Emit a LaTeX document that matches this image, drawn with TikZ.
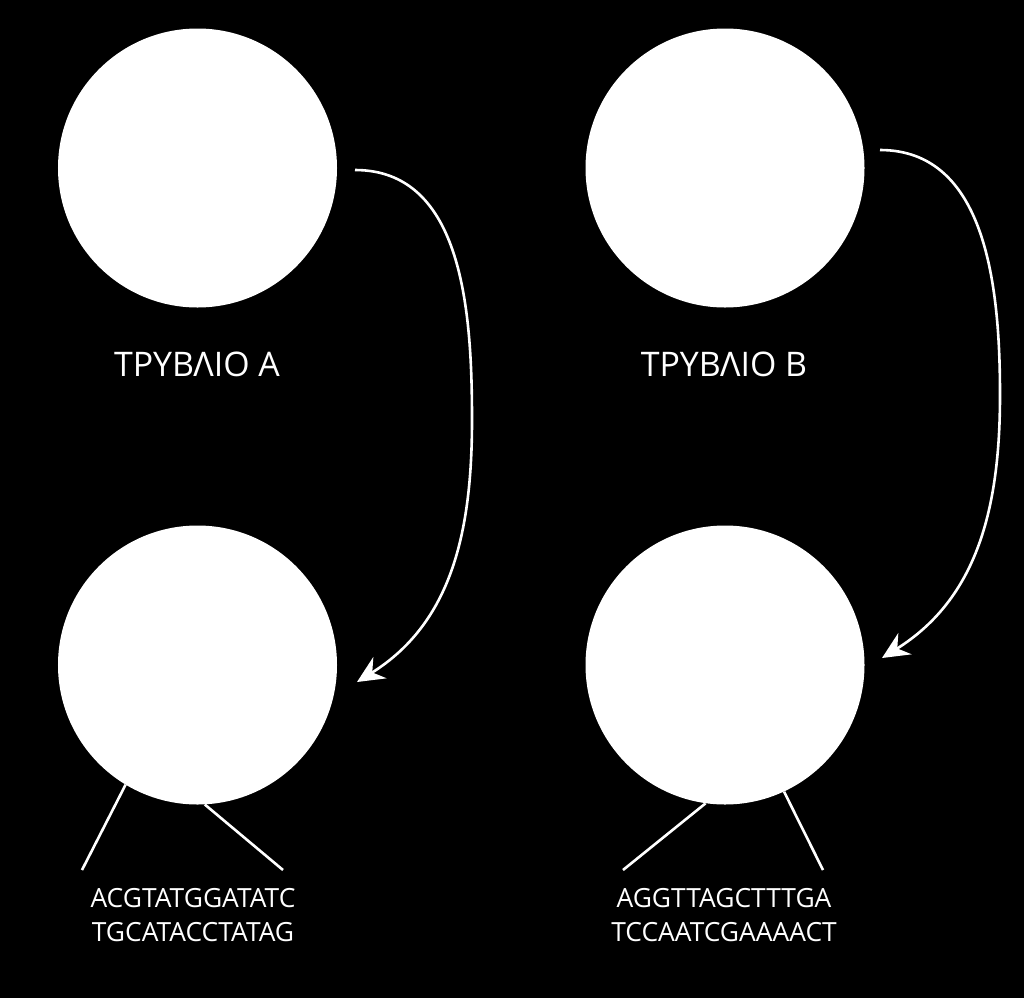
\documentclass[tikz,border=0pt]{standalone}
\usepackage{fontspec}
\setmainfont{Open Sans}
\usetikzlibrary{arrows.meta}
\begin{document}
\begin{tikzpicture}[x=1bp,y=-1bp,
  dish/.style={circle,fill=white,draw=none,minimum size=279bp,inner sep=0pt},
  lbl/.style={text=white,font=\fontsize{34}{40}\selectfont,inner sep=0pt},
  seq/.style={text=white,font=\fontsize{26.5}{33.5}\selectfont,align=center,inner sep=0pt},
  flow/.style={draw=white,line width=2.6bp,-{Stealth[length=27bp,width=25bp,inset=9bp]}},
  stalk/.style={draw=white,line width=2.6bp}]
\fill[black] (0,0) rectangle (1024,998);
\useasboundingbox (0,0) rectangle (1024,998);
\node[dish] (a1) at (197.5,168) {};
\node[dish] (b1) at (725,168) {};
\node[dish] (a2) at (197.5,665) {};
\node[dish] (b2) at (725,665) {};
\node[lbl] (ta) at (197,364) {ΤΡΥΒΛΙΟ Α};
\node[lbl] (tb) at (724,364) {ΤΡΥΒΛΙΟ Β};
\coordinate (sa) at (355,170);
\coordinate (ea) at (357,682);
\coordinate (sb) at (880,150);
\coordinate (eb) at (882,658);
\draw[flow] (sa) to[out=0,in=90] (472,420) to[out=-90,in=32] (ea);
\draw[flow] (sb) to[out=0,in=90] (1000,395) to[out=-90,in=32] (eb);
\node[seq] (qa) at (193,915) {ACGTATGGATATC\\TGCATACCTATAG};
\node[seq] (qb) at (724,915) {AGGTTAGCTTTGA\\TCCAATCGAAAACT};
\coordinate (la1) at (82,870);
\coordinate (la2) at (283,870);
\coordinate (lb1) at (623,870);
\coordinate (lb2) at (823,870);
\draw[stalk] (a2.239.5) -- (la1);
\draw[stalk] (a2.273) -- (la2);
\draw[stalk] (b2.262) -- (lb1);
\draw[stalk] (b2.295.5) -- (lb2);
\end{tikzpicture}
\end{document}
